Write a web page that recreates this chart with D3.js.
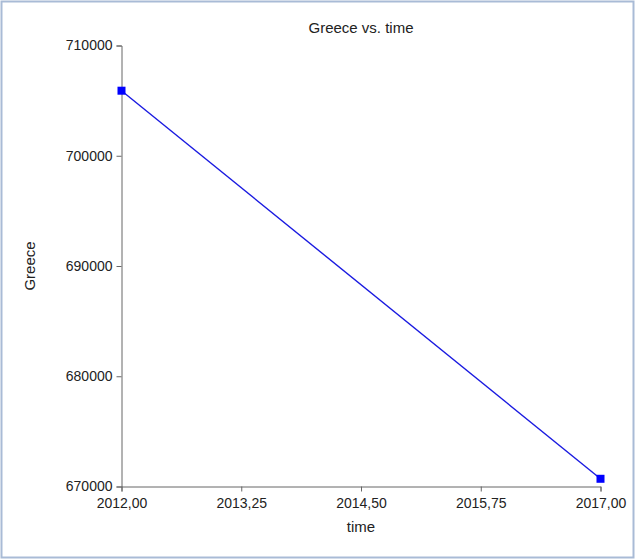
<!DOCTYPE html>
<html>
<head>
<meta charset="utf-8">
<script src="https://cdn.jsdelivr.net/npm/d3@7"></script>
<style>
  body { margin: 0; background: #fff; }
  svg { display: block; font-family: "Liberation Sans", Arial, sans-serif; }
</style>
</head>
<body>
<svg width="636" height="560"></svg>
<script>
// data
var years = [2012, 2017];
var greece = [705900, 670700];
var xTicks = [2012, 2013.25, 2014.5, 2015.75, 2017];
var yTicks = [670000, 680000, 690000, 700000, 710000];

var svg = d3.select("svg");
var margin = {left: 121.5, right: 35, top: 45, bottom: 74};
var width = 636, height = 560;

// frame
svg.append("rect")
  .attr("x", 1.5).attr("y", 1.5)
  .attr("width", width - 4).attr("height", height - 4)
  .attr("fill", "#fff")
  .attr("stroke", "#a9bbd6")
  .attr("stroke-width", 2);

var x = d3.scaleLinear().domain([2012, 2017]).range([margin.left, 600.5]);
var y = d3.scaleLinear().domain([670000, 710000]).range([486.5, 45.5]);

var fmt = function(d) { return d3.format(".2f")(d).replace(".", ","); };

var xAxis = svg.append("g")
  .attr("transform", "translate(0,486.5)")
  .call(d3.axisBottom(x).tickValues(xTicks).tickFormat(fmt).tickSizeOuter(0).tickSize(5));

var yAxis = svg.append("g")
  .attr("transform", "translate(" + margin.left + ",0)")
  .call(d3.axisLeft(y).tickValues(yTicks).tickFormat(d3.format("d")).tickSizeOuter(0).tickSize(5));

[xAxis, yAxis].forEach(function(a) {
  a.select(".domain").attr("stroke", "#666");
  a.selectAll(".tick line").attr("stroke", "#666");
  a.selectAll("text")
    .attr("fill", "#222")
    .style("font-size", "14px")
    .style("font-family", "\"Liberation Sans\", Arial, sans-serif");
});
xAxis.selectAll("text").attr("dy", "0.95em");
yAxis.selectAll("text").attr("x", -9);

// line
var line = d3.line()
  .x(function(d, i) { return x(years[i]); })
  .y(function(d) { return y(d); });

svg.append("path")
  .datum(greece)
  .attr("d", line)
  .attr("fill", "none")
  .attr("stroke", "#1a1ae0")
  .attr("stroke-width", 1.4);

svg.selectAll(".pt")
  .data(greece)
  .enter().append("rect")
  .attr("class", "pt")
  .attr("x", function(d, i) { return x(years[i]) - 4; })
  .attr("y", function(d) { return y(d) - 4; })
  .attr("width", 8)
  .attr("height", 8)
  .attr("fill", "#0000ff");

// labels
svg.append("text")
  .attr("x", 361).attr("y", 33)
  .attr("text-anchor", "middle")
  .style("font-size", "15px")
  .attr("fill", "#222")
  .text("Greece vs. time");

svg.append("text")
  .attr("x", 361).attr("y", 532)
  .attr("text-anchor", "middle")
  .style("font-size", "15px")
  .attr("fill", "#222")
  .text("time");

svg.append("text")
  .attr("transform", "translate(35,266) rotate(-90)")
  .attr("text-anchor", "middle")
  .style("font-size", "15px")
  .attr("fill", "#222")
  .text("Greece");
</script>
</body>
</html>
